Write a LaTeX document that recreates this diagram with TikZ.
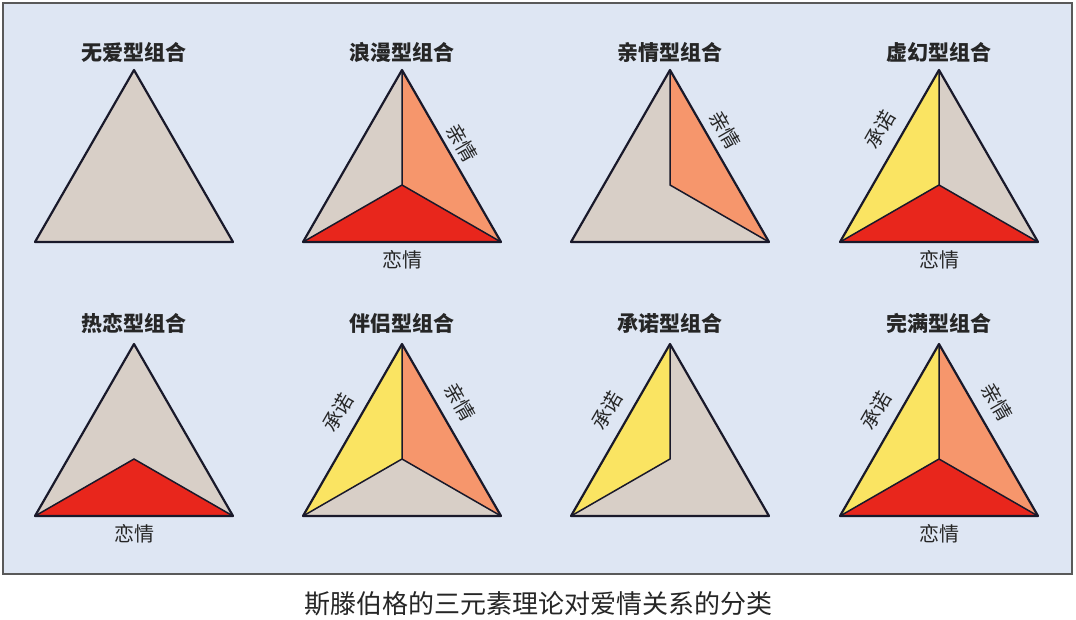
\documentclass[tikz,border=0pt]{standalone}
\usepackage{fontspec}
\newfontfamily\cjk{Noto Sans CJK SC}
\definecolor{panelblue}{RGB}{222,230,243}
\definecolor{sandgrey}{RGB}{216,207,199}
\definecolor{passionred}{RGB}{232,38,28}
\definecolor{intimorange}{RGB}{246,150,108}
\definecolor{commityellow}{RGB}{250,228,98}
\definecolor{edgeink}{RGB}{25,25,42}
\tikzset{
  tri/.style={draw=edgeink, line width=2.2pt, line join=round},
  inner/.style={draw=edgeink, line width=1.5pt},
  title/.style={font=\cjk\bfseries\fontsize{21}{21}\selectfont, text=black!85},
  lab/.style={font=\cjk\fontsize{20}{20}\selectfont, text=black!85, inner sep=0pt},
}
\begin{document}
\begin{tikzpicture}[x=1pt,y=-1pt]
 \useasboundingbox (0,0) rectangle (1076,619);
 \fill[white] (0,0) rectangle (1076,619);
 \draw[fill=panelblue, draw=black!65, line width=1.2pt] (3,3) rectangle (1072,574);

 % corners of the eight triangles
 \foreach \i/\x/\y in {1/134/70,2/402/70,3/670/70,4/939/70,5/134/344,6/402/344,7/670/344,8/939/344}{
  \coordinate (T\i) at (\x,\y);
  \coordinate (L\i) at (\x-99,\y+172);
  \coordinate (R\i) at (\x+99,\y+172);
  \coordinate (O\i) at (\x,\y+115);
 }

 \node[title] (h1) at (134,52) {无爱型组合};
 \node[title] (h2) at (402,52) {浪漫型组合};
 \node[title] (h3) at (670,52) {亲情型组合};
 \node[title] (h4) at (939,52) {虚幻型组合};
 \node[title] (h5) at (134,323) {热恋型组合};
 \node[title] (h6) at (402,323) {伴侣型组合};
 \node[title] (h7) at (670,323) {承诺型组合};
 \node[title] (h8) at (939,323) {完满型组合};

 % 1
 \filldraw[tri, fill=sandgrey] (T1) -- (L1) -- (R1) -- cycle;

 % 2
 \fill[sandgrey] (T2) -- (L2) -- (O2) -- cycle;
 \fill[intimorange] (T2) -- (R2) -- (O2) -- cycle;
 \fill[passionred] (L2) -- (R2) -- (O2) -- cycle;
 \draw[inner] (T2) -- (O2) (L2) -- (O2) -- (R2);
 \draw[tri] (T2) -- (L2) -- (R2) -- cycle;
 \path (T2) -- (R2) node[lab, pos=0.47, sloped, above=6pt] {亲情};
 \path (L2) -- (R2) node[lab, midway, below=8pt] {恋情};

 % 3
 \fill[sandgrey] (T3) -- (L3) -- (R3) -- (O3) -- cycle;
 \fill[intimorange] (T3) -- (R3) -- (O3) -- cycle;
 \draw[inner] (T3) -- (O3) -- (R3);
 \draw[tri] (T3) -- (L3) -- (R3) -- cycle;
 \path (T3) -- (R3) node[lab, pos=0.40, sloped, above=8pt] {亲情};

 % 4
 \fill[commityellow] (T4) -- (L4) -- (O4) -- cycle;
 \fill[sandgrey] (T4) -- (R4) -- (O4) -- cycle;
 \fill[passionred] (L4) -- (R4) -- (O4) -- cycle;
 \draw[inner] (T4) -- (O4) (L4) -- (O4) -- (R4);
 \draw[tri] (T4) -- (L4) -- (R4) -- cycle;
 \path (L4) -- (T4) node[lab, pos=0.59, sloped, above=12pt] {承诺};
 \path (L4) -- (R4) node[lab, midway, below=8pt] {恋情};

 % 5
 \fill[sandgrey] (T5) -- (L5) -- (O5) -- (R5) -- cycle;
 \fill[passionred] (L5) -- (R5) -- (O5) -- cycle;
 \draw[inner] (L5) -- (O5) -- (R5);
 \draw[tri] (T5) -- (L5) -- (R5) -- cycle;
 \path (L5) -- (R5) node[lab, midway, below=8pt] {恋情};

 % 6
 \fill[commityellow] (T6) -- (L6) -- (O6) -- cycle;
 \fill[intimorange] (T6) -- (R6) -- (O6) -- cycle;
 \fill[sandgrey] (L6) -- (R6) -- (O6) -- cycle;
 \draw[inner] (T6) -- (O6) (L6) -- (O6) -- (R6);
 \draw[tri] (T6) -- (L6) -- (R6) -- cycle;
 \path (L6) -- (T6) node[lab, pos=0.54, sloped, above=12pt] {承诺};
 \path (T6) -- (R6) node[lab, pos=0.40, sloped, above=12pt] {亲情};

 % 7
 \fill[sandgrey] (T7) -- (O7) -- (L7) -- (R7) -- cycle;
 \fill[commityellow] (T7) -- (L7) -- (O7) -- cycle;
 \draw[inner] (T7) -- (O7) -- (L7);
 \draw[tri] (T7) -- (L7) -- (R7) -- cycle;
 \path (L7) -- (T7) node[lab, pos=0.55, sloped, above=12pt] {承诺};

 % 8
 \fill[commityellow] (T8) -- (L8) -- (O8) -- cycle;
 \fill[intimorange] (T8) -- (R8) -- (O8) -- cycle;
 \fill[passionred] (L8) -- (R8) -- (O8) -- cycle;
 \draw[inner] (T8) -- (O8) (L8) -- (O8) -- (R8);
 \draw[tri] (T8) -- (L8) -- (R8) -- cycle;
 \path (L8) -- (T8) node[lab, pos=0.55, sloped, above=12pt] {承诺};
 \path (T8) -- (R8) node[lab, pos=0.40, sloped, above=12pt] {亲情};
 \path (L8) -- (R8) node[lab, midway, below=8pt] {恋情};

 \node[font=\cjk\fontsize{26}{26}\selectfont, text=black!85] (cap) at (538,604) {斯滕伯格的三元素理论对爱情关系的分类};
\end{tikzpicture}
\end{document}
